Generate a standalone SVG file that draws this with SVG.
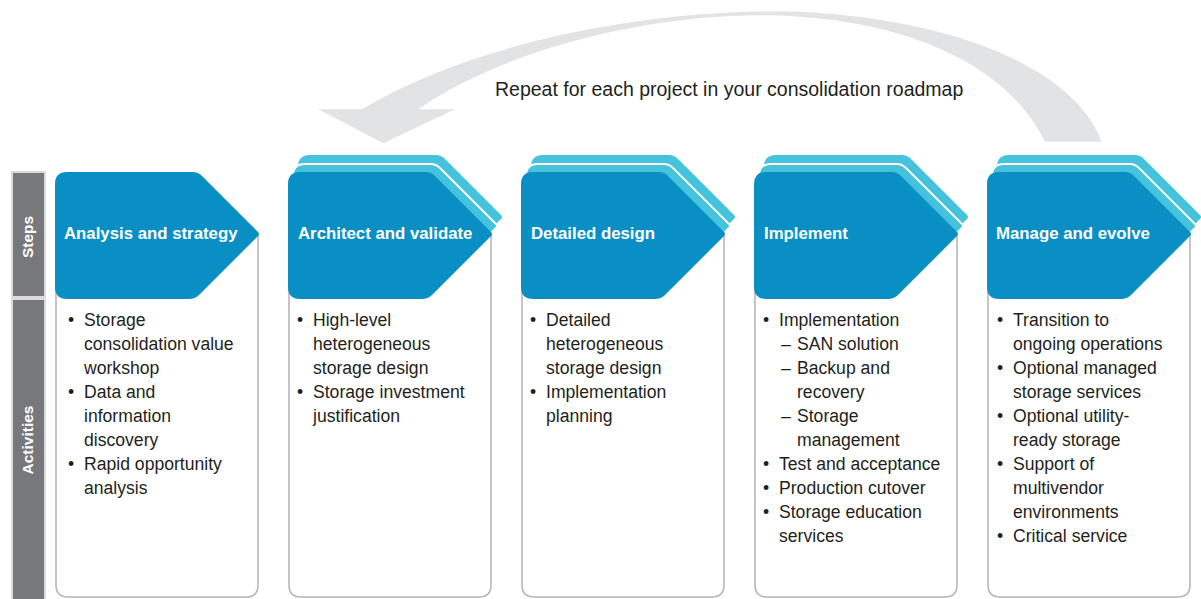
<svg xmlns="http://www.w3.org/2000/svg" width="1201" height="599" viewBox="0 0 1201 599">
<style>
.hdr{fill:#0a8fc5}
.cy{fill:#45c2dc}
.cym{fill:#45c2dc;stroke:#ffffff;stroke-width:1.8}
.box{fill:#ffffff;stroke:#b6b7ba;stroke-width:1.6}
.ht{font-family:"Liberation Sans",Arial,sans-serif;font-weight:bold;font-size:16.8px;fill:#ffffff}
.bt{font-family:"Liberation Sans",Arial,sans-serif;font-size:17.6px;fill:#231f20}
.side{font-family:"Liberation Sans",Arial,sans-serif;font-weight:bold;font-size:15.5px;fill:#ffffff;text-anchor:middle}
</style>
<defs>
<path id="hshape" d="M 0,184 Q 0,172 12,172 L 138,172 Q 143,172 147,176 L 203,232 Q 205,234 203,236 L 144,295 Q 140,299 134,299 L 12,299 Q 0,299 0,287 Z"/>
<path id="bshape" d="M 203,234 L 203,585 Q 203,597 191,597 L 13,597 Q 1,597 1,585 L 1,280"/>
</defs>
<rect width="1201" height="599" fill="#ffffff"/>

<g id="sidebar">
<rect x="11" y="171" width="35" height="430" fill="#dcdcde"/>
<rect x="13" y="173" width="31" height="123" fill="#77787b"/>
<rect x="13" y="300" width="31" height="301" fill="#77787b"/>
<text class="side" transform="translate(33,237) rotate(-90)">Steps</text>
<text class="side" transform="translate(33,440) rotate(-90)">Activities</text>
</g>

<g id="connectors">
<path id="repeat-arrow" fill="#e2e3e5" d="M 1101.7,141.7 C 1075,70 960,20 800,11.7 C 640,8 470,45 361.7,109.3 L 318.3,109.3 L 383.3,143.3 L 455,109.3 L 418.3,109.3 C 515,42 680,8 800,16.7 C 920,25 1010,70 1045,141.7 Z"/>
<text id="repeat-label" class="bt" x="495" y="96" style="font-size:19.5px">Repeat for each project in your consolidation roadmap</text>
</g>

<g id="step1" transform="translate(55,0)">
<use href="#bshape" class="box"/>
<use href="#hshape" class="hdr"/>
<text class="ht" x="9" y="239">Analysis and strategy</text>
<g class="bt">
<text x="13" y="326">•</text><text x="29" y="326">Storage</text>
<text x="29" y="350">consolidation value</text>
<text x="29" y="374">workshop</text>
<text x="13" y="398">•</text><text x="29" y="398">Data and</text>
<text x="29" y="422">information</text>
<text x="29" y="446">discovery</text>
<text x="13" y="470">•</text><text x="29" y="470">Rapid opportunity</text>
<text x="29" y="494">analysis</text>
</g>
</g>

<g id="step2" transform="translate(288,0)">
<use href="#bshape" class="box"/>
<use href="#hshape" class="cy" transform="translate(10,-17)"/>
<use href="#hshape" class="cym" transform="translate(5,-8)"/>
<use href="#hshape" class="hdr"/>
<text class="ht" x="10" y="239">Architect and validate</text>
<g class="bt">
<text x="9" y="326">•</text><text x="25" y="326">High-level</text>
<text x="25" y="350">heterogeneous</text>
<text x="25" y="374">storage design</text>
<text x="9" y="398">•</text><text x="25" y="398">Storage investment</text>
<text x="25" y="422">justification</text>
</g>
</g>

<g id="step3" transform="translate(521,0)">
<use href="#bshape" class="box"/>
<use href="#hshape" class="cy" transform="translate(10,-17)"/>
<use href="#hshape" class="cym" transform="translate(5,-8)"/>
<use href="#hshape" class="hdr"/>
<text class="ht" x="10" y="239">Detailed design</text>
<g class="bt">
<text x="9" y="326">•</text><text x="25" y="326">Detailed</text>
<text x="25" y="350">heterogeneous</text>
<text x="25" y="374">storage design</text>
<text x="9" y="398">•</text><text x="25" y="398">Implementation</text>
<text x="25" y="422">planning</text>
</g>
</g>

<g id="step4" transform="translate(754,0)">
<use href="#bshape" class="box"/>
<use href="#hshape" class="cy" transform="translate(10,-17)"/>
<use href="#hshape" class="cym" transform="translate(5,-8)"/>
<use href="#hshape" class="hdr"/>
<text class="ht" x="10" y="239">Implement</text>
<g class="bt">
<text x="9" y="326">•</text><text x="25" y="326">Implementation</text>
<text x="27" y="350">–</text><text x="43" y="350">SAN solution</text>
<text x="27" y="374">–</text><text x="43" y="374">Backup and</text>
<text x="43" y="398">recovery</text>
<text x="27" y="422">–</text><text x="43" y="422">Storage</text>
<text x="43" y="446">management</text>
<text x="9" y="470">•</text><text x="25" y="470">Test and acceptance</text>
<text x="9" y="494">•</text><text x="25" y="494">Production cutover</text>
<text x="9" y="518">•</text><text x="25" y="518">Storage education</text>
<text x="25" y="542">services</text>
</g>
</g>

<g id="step5" transform="translate(987,0)">
<use href="#bshape" class="box"/>
<use href="#hshape" class="cy" transform="translate(10,-17)"/>
<use href="#hshape" class="cym" transform="translate(5,-8)"/>
<use href="#hshape" class="hdr"/>
<text class="ht" x="9" y="239">Manage and evolve</text>
<g class="bt">
<text x="10" y="326">•</text><text x="26" y="326">Transition to</text>
<text x="26" y="350">ongoing operations</text>
<text x="10" y="374">•</text><text x="26" y="374">Optional managed</text>
<text x="26" y="398">storage services</text>
<text x="10" y="422">•</text><text x="26" y="422">Optional utility-</text>
<text x="26" y="446">ready storage</text>
<text x="10" y="470">•</text><text x="26" y="470">Support of</text>
<text x="26" y="494">multivendor</text>
<text x="26" y="518">environments</text>
<text x="10" y="542">•</text><text x="26" y="542">Critical service</text>
</g>
</g>
</svg>
